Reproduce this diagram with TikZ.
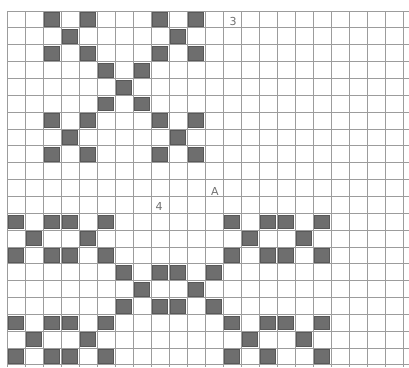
\documentclass[tikz,border=0pt]{standalone}
\usepackage{fontspec}
\setmainfont{DejaVu Sans}
\definecolor{gridc}{HTML}{9C9C9C}
\definecolor{shade}{HTML}{6E6E6E}
\definecolor{penc}{HTML}{707070}
\tikzset{
  gridline/.style={draw=gridc, line width=0.8pt},
  cellfill/.style={fill=shade, draw=shade!80!black, line width=0.4pt},
  hand/.style={text=penc, font=\fontsize{11}{11}\selectfont, inner sep=0pt}
}
\begin{document}
\begin{tikzpicture}[x=1pt,y=-1pt]
\useasboundingbox (0,0) rectangle (409,367);
\fill[white] (0,0) rectangle (409,367);
% grid
\foreach \k in {0,...,22} {
  \draw[gridline] ({7+18*\k},11) -- ({7+18*\k},367);
}
\foreach \r in {0,...,21} {
  \draw[gridline] (7,{11+16.85*\r}) -- (409,{11+16.85*\r});
}
% shaded cells (column, row)
\foreach \c/\r in {
  2/0,4/0,8/0,10/0, 3/1,9/1, 2/2,4/2,8/2,10/2,
  5/3,7/3, 6/4, 5/5,7/5,
  2/6,4/6,8/6,10/6, 3/7,9/7, 2/8,4/8,8/8,10/8,
  0/12,2/12,3/12,5/12,12/12,14/12,15/12,17/12,
  1/13,4/13,13/13,16/13,
  0/14,2/14,3/14,5/14,12/14,14/14,15/14,17/14,
  6/15,8/15,9/15,11/15,
  7/16,10/16,
  6/17,8/17,9/17,11/17,
  0/18,2/18,3/18,5/18,12/18,14/18,15/18,17/18,
  1/19,4/19,13/19,16/19,
  0/20,2/20,3/20,5/20,12/20,14/20,17/20} {
  \filldraw[cellfill] ({7+18*\c+1.5},{11+16.85*\r+1.5}) rectangle ({7+18*(\c+1)-1.5},{11+16.85*(\r+1)-1.5});
}
% labels
\node[hand] (three) at (233,21) {3};
\node[hand] (four) at (159,206) {4};
\node[hand] (lettera) at (215,191) {A};
\end{tikzpicture}
\end{document}
